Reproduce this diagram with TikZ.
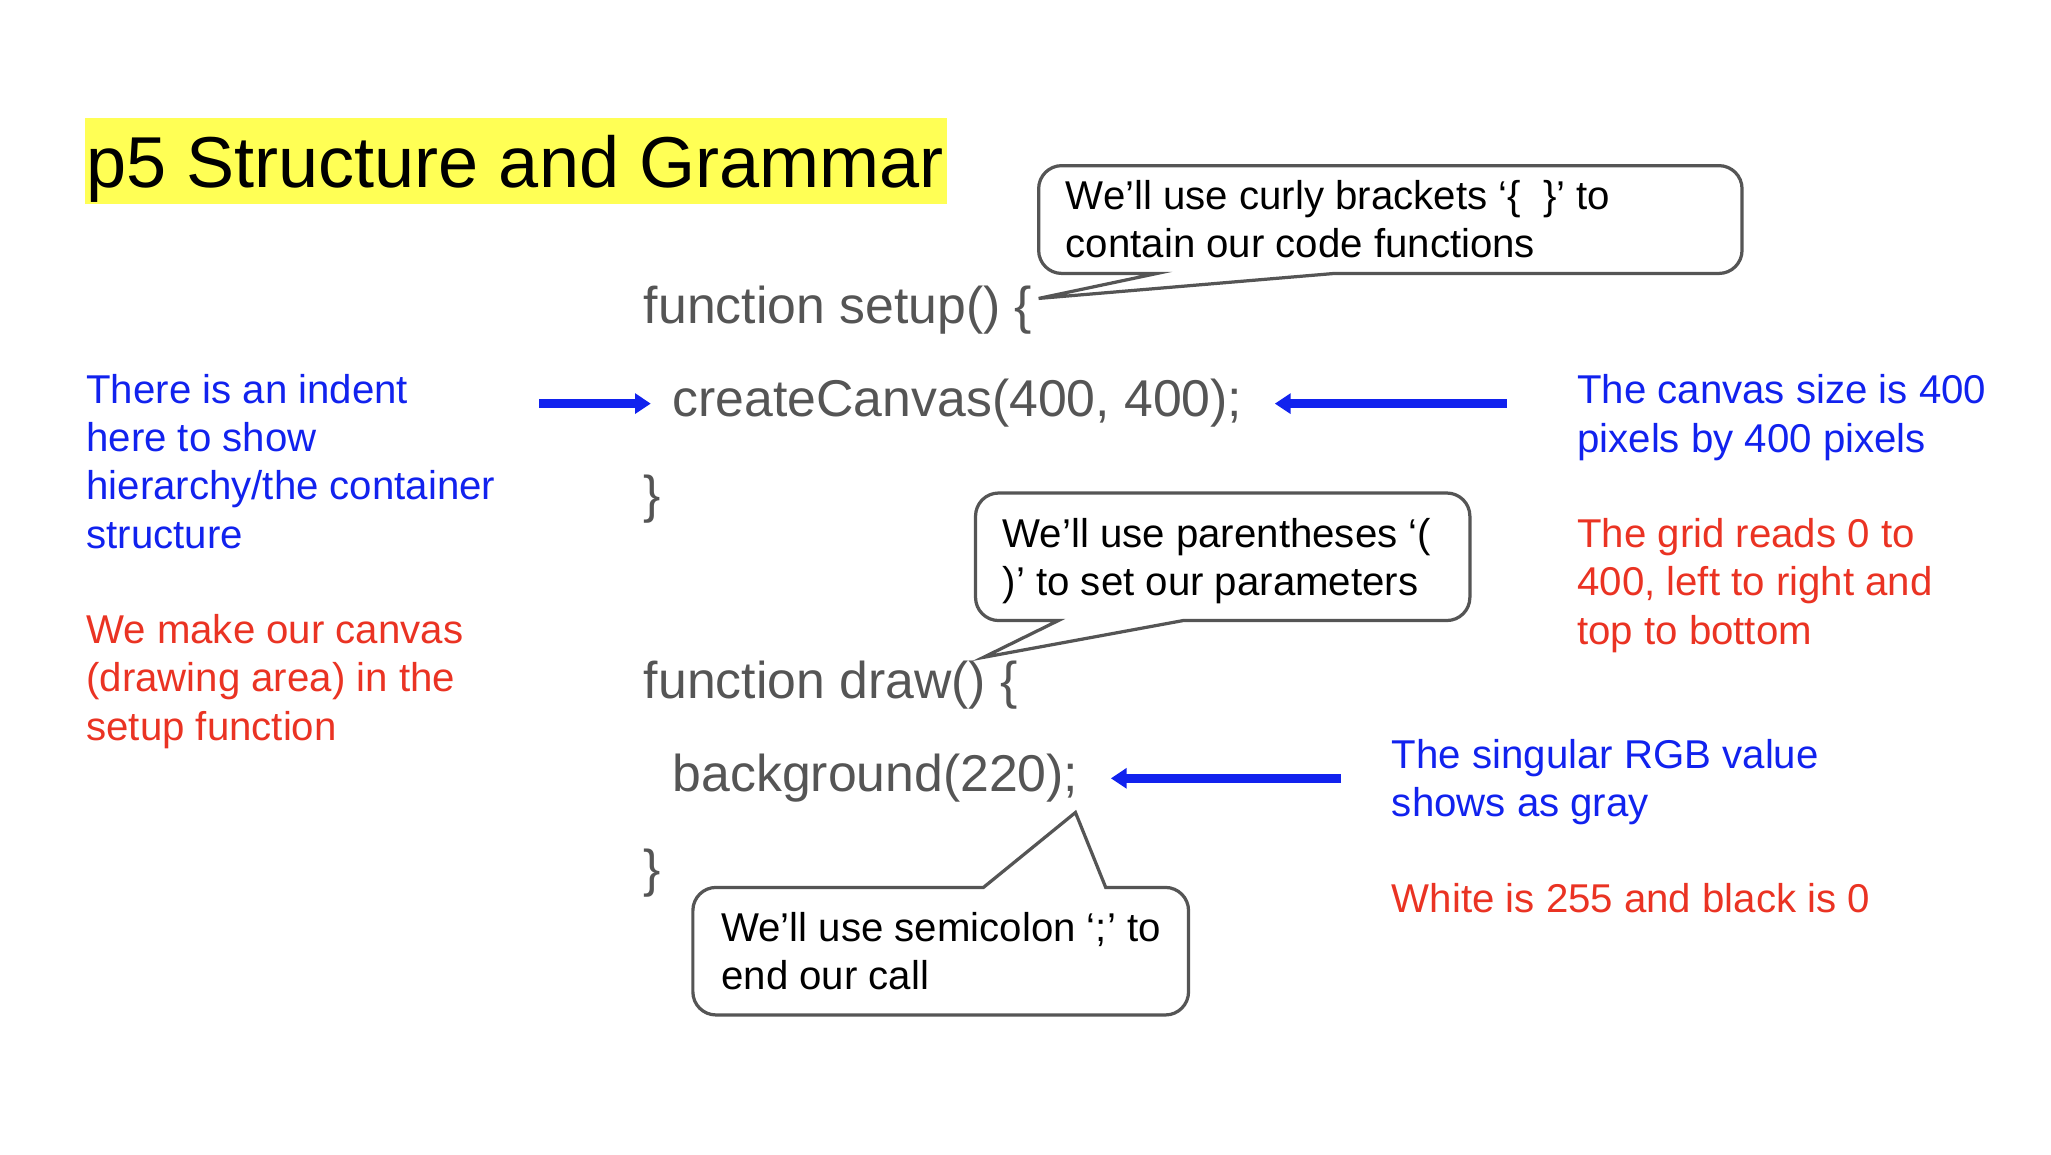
\documentclass[tikz,border=0pt]{standalone}
\usepackage{fontspec}
\setmainfont{Liberation Sans}
\usetikzlibrary{arrows.meta}
\definecolor{noteblue}{RGB}{17,34,238}
\definecolor{notered}{RGB}{234,51,35}
\definecolor{codegray}{RGB}{85,85,85}
\definecolor{titleyellow}{RGB}{255,255,85}
\tikzset{
  note/.style={anchor=base west,align=left,inner sep=0pt,font=\fontsize{8.7}{10.45}\selectfont},
  code/.style={anchor=base west,inner sep=0pt,text=codegray,font=\fontsize{11.2}{13}\selectfont},
  bubble/.style={draw=codegray,line width=0.7pt,fill=white},
  pointer/.style={draw=noteblue,line width=2pt,-{Triangle[length=1.2mm,width=1.5mm]}},
}
\begin{document}
\begin{tikzpicture}[x=0.1mm,y=-0.1mm]
        \useasboundingbox (0,0) rectangle (1560,878);
        % title
        \fill[titleyellow] (65,90) rectangle (720,155);
        \node[anchor=base west,inner sep=0pt,font=\fontsize{15.6}{18}\selectfont] (title) at (65,143) {p5 Structure and Grammar};

        % code lines
        \node[code] (setup) at (489,246) {function setup() \{};
        \node[code] (canvas) at (511,317) {createCanvas(400, 400);};
        \node[code] (close1) at (489,390) {\}};
        \node[code] (draw) at (489,531) {function draw() \{};
        \node[code] (bg) at (511,602) {background(220);};
        \node[code] (close2) at (489,674) {\}};

        % callouts
        \draw[bubble] (880,208) -- (790,227) -- (1015,208) [rounded corners=5pt] -- (1325,208) -- (1325,126) -- (790,126) -- (790,208) [sharp corners] -- cycle;
        \node[note] (curly) at (810,196) {We’ll use curly brackets ‘\{~~\}’ to\\contain our code functions};

        \draw[bubble] (805,472) -- (748,500) -- (900,472) [rounded corners=5pt] -- (1118,472) -- (1118,375) -- (742,375) -- (742,472) [sharp corners] -- cycle;
        \node[note] (paren) at (762,453) {We’ll use parentheses ‘(\\)’ to set our parameters};

        \draw[bubble] (748,675) -- (818,618) -- (841,675) [rounded corners=5pt] -- (904,675) -- (904,772) -- (527,772) -- (527,675) [sharp corners] -- cycle;
        \node[note] (semi) at (548,753) {We’ll use semicolon ‘;’ to\\end our call};

        % side notes
        \node[note,text=noteblue] (indent) at (65,417) {There is an indent\\here to show\\hierarchy/the container\\structure};
        \node[note,text=notered] (make) at (65,563) {We make our canvas\\(drawing area) in the\\setup function};
        \node[note,text=noteblue] (size) at (1199,344) {The canvas size is 400\\pixels by 400 pixels};
        \node[note,text=notered] (grid) at (1199,490) {The grid reads 0 to\\400, left to right and\\top to bottom};
        \node[note,text=noteblue] (rgb) at (1058,621) {The singular RGB value\\shows as gray};
        \node[note,text=notered] (white) at (1058,694) {White is 255 and black is 0};

        % arrows
        \coordinate (a1) at (410,307);
        \coordinate (a2) at (1146,307);
        \coordinate (a3) at (1020,592);
        \draw[pointer] (a1) -- ([xshift=-1.6mm]canvas.west|-a1);
        \draw[pointer] (a2) -- ([xshift=2.4mm]canvas.east|-a2);
        \draw[pointer] (a3) -- ([xshift=2.4mm]bg.east|-a3);
\end{tikzpicture}
\end{document}
